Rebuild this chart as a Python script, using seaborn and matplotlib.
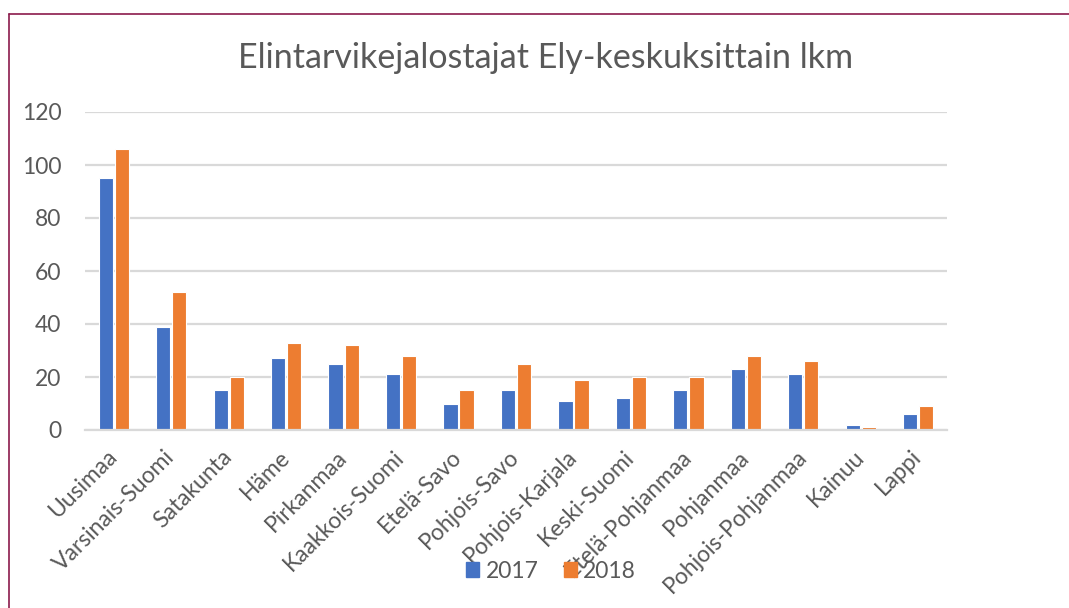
import matplotlib
matplotlib.use("Agg")
import matplotlib.pyplot as plt
from matplotlib.lines import Line2D
import seaborn as sns
import pandas as pd

regions = ["Uusimaa", "Varsinais-Suomi", "Satakunta", "Häme", "Pirkanmaa",
           "Kaakkois-Suomi", "Etelä-Savo", "Pohjois-Savo", "Pohjois-Karjala",
           "Keski-Suomi", "Etelä-Pohjanmaa", "Pohjanmaa", "Pohjois-Pohjanmaa",
           "Kainuu", "Lappi"]
values_2017 = [95, 39, 15, 27, 25, 21, 10, 15, 11, 12, 15, 23, 21, 2, 6]
values_2018 = [106, 52, 20, 33, 32, 28, 15, 25, 19, 20, 20, 28, 26, 1, 9]
years = ["2017", "2018"]
y_ticks = [0, 20, 40, 60, 80, 100, 120]
title = "Elintarvikejalostajat Ely-keskuksittain lkm"

df = pd.DataFrame({
    "region": regions * 2,
    "year": [years[0]] * len(regions) + [years[1]] * len(regions),
    "count": values_2017 + values_2018,
})

sns.set_theme(style="white")
plt.rcParams['font.family'] = ['Lato', 'DejaVu Sans']
text_color = "#595959"
grid_color = "#D9D9D9"

fig = plt.figure(figsize=(10.69, 6.08), dpi=100)
ax = fig.add_axes([85/1069, 1 - 430/608, (947-85)/1069, (430-112)/608])

sns.barplot(data=df, x="region", y="count", hue="year", order=regions,
            hue_order=years, palette=["#4472C4", "#ED7D31"], width=0.56,
            gap=0.12, edgecolor="white", linewidth=0.8, saturation=1,
            legend=False, ax=ax)

ax.set_ylim(0, 120)
ax.set_xlim(-0.5, len(regions) - 0.5)
ax.set_yticks(y_ticks)
ax.set_yticklabels([str(t) for t in y_ticks])
ax.yaxis.grid(True, color=grid_color, linewidth=1.6)
ax.set_axisbelow(True)
for s in ["top", "right", "left"]:
    ax.spines[s].set_visible(False)
ax.spines["bottom"].set_color(grid_color)
ax.spines["bottom"].set_linewidth(1.6)
ax.set_xlabel("")
ax.set_ylabel("")
ax.tick_params(axis="y", length=0, pad=17, labelsize=16.5, labelcolor=text_color)
ax.tick_params(axis="x", length=0, pad=17, labelsize=16.5, labelcolor=text_color)
for lab in ax.get_xticklabels():
    lab.set_rotation(45)
    lab.set_ha("right")
    lab.set_va("center")
    lab.set_rotation_mode("anchor")

fig.text(546/1069, 1 - 58/608, title, ha="center", va="center",
         fontsize=24.5, color=text_color)

handles = [plt.Rectangle((0, 0), 1, 1, color=c) for c in ["#4472C4", "#ED7D31"]]
leg = fig.legend(handles, years, loc="center", bbox_to_anchor=(551/1069, 1 - 571/608),
                 ncol=2, frameon=False, fontsize=16.5, handlelength=0.58,
                 handleheight=0.58, columnspacing=1.1, handletextpad=0.28,
                 borderpad=0, borderaxespad=0)
for t in leg.get_texts():
    t.set_color(text_color)

frame_color = "#8B1A4B"
fig.add_artist(Line2D([9/1069, 1], [1 - 13.5/608, 1 - 13.5/608],
                      transform=fig.transFigure, color=frame_color, linewidth=1.2))
fig.add_artist(Line2D([9/1069, 9/1069], [0, 1 - 13.5/608],
                      transform=fig.transFigure, color=frame_color, linewidth=1.2))

fig.savefig("out.png", dpi=100)
